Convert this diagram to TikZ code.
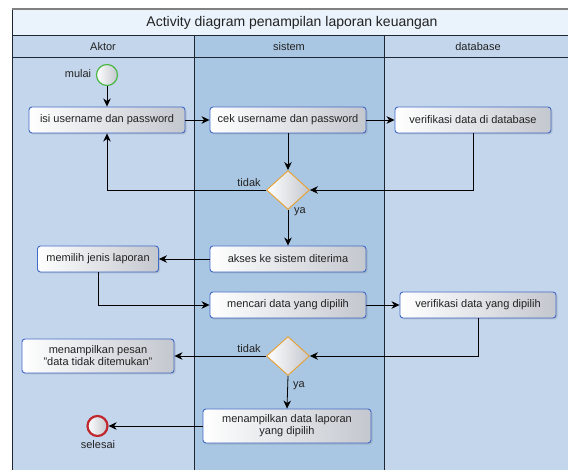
\documentclass[tikz,border=0pt]{standalone}
\usepackage{fontspec}
\setmainfont{Liberation Sans}
\usetikzlibrary{shapes.geometric,arrows.meta,shadows}
\definecolor{lanea}{HTML}{C4D6EC}
\definecolor{laneb}{HTML}{A9C6E2}
\definecolor{titlebg}{HTML}{EAF2FC}
\definecolor{framec}{HTML}{1E2633}
\definecolor{boxborder}{HTML}{4169C8}
\definecolor{boxdark}{HTML}{C3C7CE}
\definecolor{decborder}{HTML}{E8A030}
\definecolor{startc}{HTML}{4CB848}
\definecolor{endc}{HTML}{C0282D}
\definecolor{txt}{HTML}{222222}
\begin{document}
\begin{tikzpicture}[x=1pt,y=-1pt,
  every node/.style={font=\fontsize{11}{12}\selectfont, text=txt},
  act/.style={draw=boxborder, line width=0.9pt, rounded corners=3pt, left color=white, right color=boxdark,
    minimum height=26pt, inner sep=2pt, align=center,
    drop shadow={shadow xshift=1.5pt, shadow yshift=-1.5pt, opacity=0.25}},
  dec/.style={diamond, draw=decborder, line width=0.9pt, left color=white, right color=boxdark,
    minimum width=43pt, minimum height=39pt, inner sep=0pt},
  startnode/.style={circle, draw=startc, line width=1.2pt, left color=white, right color=boxdark,
    minimum size=21pt, inner sep=0pt},
  endnode/.style={circle, draw=endc, line width=2.2pt, left color=white, right color=boxdark,
    minimum size=20pt, inner sep=0pt},
  flow/.style={draw=black, line width=0.8pt, -{Stealth[length=8pt,width=7.5pt,inset=2.5pt]}},
  lbl/.style={inner sep=0pt},
  frameline/.style={draw=framec, line width=0.9pt}
]
\useasboundingbox (0,0) rectangle (568,470);
\clip (0,0) rectangle (568,470);
% lanes
\fill[titlebg] (12,9) rectangle (572,35);
\fill[lanea] (12,35) rectangle (194,475);
\fill[laneb] (194,35) rectangle (384,475);
\fill[lanea] (384,35) rectangle (572,475);
\draw[frameline] (12,9) -- (12,475);
\draw[frameline] (12,35) -- (572,35);
\draw[frameline] (12,57) -- (572,57);
\draw[frameline] (194,35) -- (194,475);
\draw[frameline] (384,35) -- (384,475);
\draw[draw=gray, line width=1.5pt] (12,9) -- (572,9);
\node (title) at (292,22.5) {\fontsize{14}{16}\selectfont Activity diagram penampilan laporan keuangan};
\node (h1) at (103,46.5) {Aktor};
\node (h2) at (289,46.5) {sistem};
\node (h3) at (478,46.5) {database};
% nodes
\node[startnode] (start) at (107,75) {};
\node[lbl] (mulai) at (78,74) {mulai};
\node[act, minimum width=156pt] (isi) at (107,120) {isi username dan password};
\node[act, minimum width=156pt] (cek) at (288,120) {cek username dan password};
\node[act, minimum width=156pt] (verif) at (473,120) {verifikasi data di database};
\node[dec] (d1) at (288,190) {};
\node[lbl] (t1) at (249,183) {tidak};
\node[lbl] (y1) at (300,212) {ya};
\node[act, minimum width=156pt] (akses) at (288,259) {akses ke sistem diterima};
\node[act, minimum width=121pt] (memilih) at (98,259) {memilih jenis laporan};
\node[act, minimum width=156pt] (mencari) at (288,305) {mencari data yang dipilih};
\node[act, minimum width=156pt] (verif2) at (478,305) {verifikasi data yang dipilih};
\node[dec] (d2) at (288,356) {};
\node[lbl] (t2) at (249,349) {tidak};
\node[lbl] (y2) at (299,386) {ya};
\node[act, minimum width=152pt, minimum height=34pt] (pesan) at (98,356) {menampilkan pesan\\"data tidak ditemukan"};
\node[act, minimum width=168pt, minimum height=34pt] (tampil) at (287,426) {menampilkan data laporan\\yang dipilih};
\node[endnode] (end) at (97.5,426) {};
\node[lbl] (selesai) at (98,444.5) {selesai};
% connectors
\draw[flow] (start) -- (isi);
\draw[flow] (isi) -- (cek);
\draw[flow] (cek) -- (verif);
\draw[flow] (cek) -- (d1);
\draw[flow] (verif.south) |- (d1.east);
\draw[flow] (d1.west) -| (isi.south);
\draw[flow] (d1.south) -- (akses.north);
\draw[flow] (akses) -- (memilih);
\draw[flow] (memilih.south) |- (mencari.west);
\draw[flow] (mencari) -- (verif2);
\draw[flow] (verif2.south) |- (d2.east);
\draw[flow] (d2.west) -- (pesan.east);
\draw[flow] (d2.south) -- (tampil.north);
\draw[flow] (tampil.west) -- (end.east);
\end{tikzpicture}
\end{document}
